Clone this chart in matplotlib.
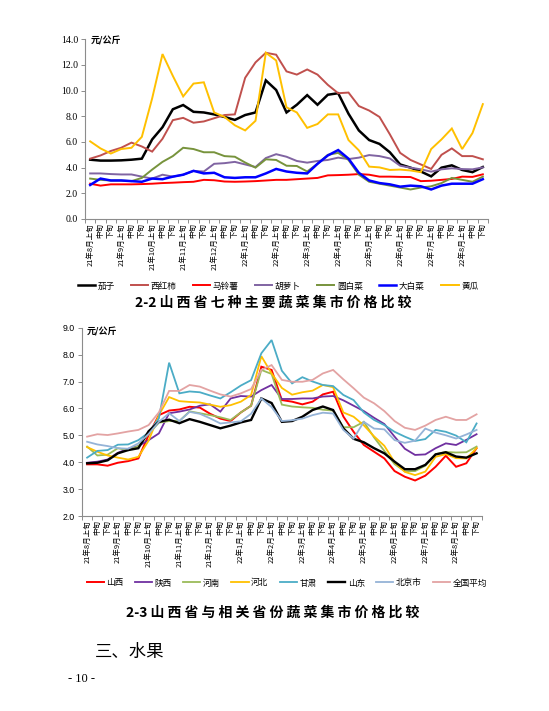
import matplotlib
matplotlib.use('Agg')
import matplotlib.pyplot as plt
from matplotlib.ticker import FixedLocator, NullFormatter, FormatStrFormatter

plt.rcParams['font.family'] = ['Noto Sans CJK SC', 'DejaVu Sans']

# ---------------- data ----------------
months = ['21年8月', '21年9月', '21年10月', '21年11月', '21年12月',
          '22年1月', '22年2月', '22年3月', '22年4月', '22年5月',
          '22年6月', '22年7月', '22年8月']
periods = ['上旬', '中旬', '下旬']

veg_names = ['茄子', '西红柿', '马铃薯', '胡萝卜', '圆白菜', '大白菜', '黄瓜']
eggplant = [4.62, 4.55, 4.55, 4.57, 4.62, 4.7, 6.2, 7.15, 8.55, 8.88, 8.35, 8.3, 8.15,
            7.95, 7.72, 8.1, 8.3, 10.8, 10.05, 8.3, 8.9, 9.65, 8.9, 9.68, 9.8, 8.2,
            6.9, 6.15, 5.85, 5.2, 4.25, 4.0, 3.7, 3.32, 4.0, 4.18, 3.82, 3.65, 4.05]
tomato = [4.7, 4.95, 5.3, 5.55, 5.95, 5.65, 5.25, 6.25, 7.7, 7.88, 7.5, 7.6, 7.85,
          8.1, 8.15, 11.0, 12.2, 12.95, 12.8, 11.5, 11.25, 11.65, 11.25, 10.45, 9.8, 9.85,
          8.8, 8.45, 7.95, 6.6, 5.15, 4.6, 4.25, 3.9, 5.0, 5.5, 4.9, 4.9, 4.65]
potato = [2.75, 2.6, 2.7, 2.7, 2.7, 2.72, 2.75, 2.8, 2.83, 2.87, 2.9, 3.05, 3.02,
          2.92, 2.9, 2.92, 2.95, 3.0, 3.05, 3.05, 3.1, 3.15, 3.2, 3.4, 3.42, 3.45,
          3.5, 3.45, 3.3, 3.3, 3.28, 3.27, 2.95, 2.98, 3.05, 3.12, 3.3, 3.28, 3.48]
carrot = [3.55, 3.55, 3.5, 3.47, 3.47, 3.3, 3.15, 3.45, 3.3, 3.45, 3.75, 3.7, 4.3,
          4.35, 4.45, 4.25, 4.05, 4.75, 5.05, 4.85, 4.52, 4.39, 4.52, 4.6, 4.78, 4.67,
          4.78, 4.98, 4.9, 4.72, 4.15, 4.0, 3.87, 3.69, 3.87, 3.95, 3.89, 3.87, 4.02]
cabbage = [3.15, 3.05, 3.0, 3.0, 2.95, 3.2, 3.85, 4.45, 4.9, 5.55, 5.45, 5.2, 5.2,
           4.9, 4.85, 4.4, 4.0, 4.65, 4.6, 4.15, 4.13, 3.7, 4.3, 5.0, 5.15, 4.6,
           3.45, 2.9, 2.75, 2.6, 2.45, 2.3, 2.45, 2.55, 2.8, 3.2, 3.05, 2.9, 3.3]
chinese_cabbage = [2.65, 3.15, 3.0, 3.0, 2.95, 2.9, 3.15, 3.1, 3.3, 3.45, 3.75, 3.55, 3.6,
                   3.25, 3.2, 3.25, 3.25, 3.55, 3.9, 3.7, 3.6, 3.55, 4.3, 4.95, 5.37, 4.7,
                   3.6, 3.0, 2.8, 2.7, 2.52, 2.6, 2.55, 2.3, 2.6, 2.75, 2.75, 2.75, 3.1]
cucumber = [6.05, 5.5, 5.1, 5.45, 5.55, 6.4, 9.4, 12.85, 11.15, 9.55, 10.55, 10.65, 8.3,
            7.95, 7.3, 6.9, 7.65, 12.95, 12.35, 8.7, 8.3, 7.1, 7.4, 8.15, 8.15, 6.15,
            5.35, 4.08, 4.02, 3.82, 3.85, 3.78, 3.65, 5.45, 6.2, 7.05, 5.45, 6.7, 8.95]

prov_names = ['山西', '陕西', '河南', '河北', '甘肃', '山东', '北京市', '全国平均']
shanxi = [3.92, 3.92, 3.87, 3.98, 4.04, 4.14, 5.01, 5.75, 5.92, 5.96, 6.06, 6.03, 5.8,
          5.62, 5.53, 5.85, 6.1, 7.55, 7.43, 6.31, 6.25, 6.15, 6.25, 6.52, 6.62, 5.7,
          5.13, 4.64, 4.39, 4.14, 3.67, 3.46, 3.32, 3.5, 3.83, 4.24, 3.83, 3.96, 4.52]
shaanxi = [3.98, 4.02, 4.1, 4.35, 4.5, 4.6, 4.82, 5.07, 5.82, 5.88, 5.96, 6.1, 6.15,
           5.88, 6.37, 6.46, 6.44, 6.68, 6.87, 6.35, 6.35, 6.37, 6.37, 6.44, 6.46, 6.3,
           6.1, 5.9, 5.65, 5.42, 4.95, 4.5, 4.27, 4.29, 4.52, 4.7, 4.64, 4.83, 5.04]
henan = [4.58, 4.25, 4.28, 4.52, 4.44, 4.6, 5.05, 5.47, 5.53, 5.53, 5.89, 5.82, 5.75,
         5.67, 5.57, 5.85, 6.1, 7.43, 7.28, 6.14, 6.07, 6.04, 6.02, 5.95, 5.92, 5.3,
         5.3, 5.5, 4.92, 4.42, 3.93, 3.66, 3.67, 3.87, 4.3, 4.38, 4.36, 4.37, 4.58]
hebei = [4.56, 4.39, 4.25, 4.17, 4.1, 4.2, 4.8, 5.75, 6.42, 6.27, 6.24, 6.22, 6.14,
         6.06, 6.12, 6.25, 6.5, 7.94, 7.3, 6.76, 6.51, 6.6, 6.66, 6.87, 6.79, 5.85,
         5.69, 5.37, 4.96, 4.61, 4.0, 3.64, 3.52, 3.65, 4.2, 4.3, 4.15, 4.14, 4.52]
gansu = [4.17, 4.42, 4.45, 4.65, 4.66, 4.82, 5.1, 5.63, 7.7, 6.56, 6.63, 6.6, 6.48,
         6.37, 6.6, 6.85, 7.05, 8.05, 8.54, 7.4, 6.93, 7.16, 7.0, 6.87, 6.83, 6.5,
         6.31, 5.85, 5.57, 5.38, 5.13, 4.95, 4.79, 4.86, 5.2, 5.13, 4.99, 4.74, 5.44]
shandong = [3.96, 3.98, 4.07, 4.33, 4.45, 4.52, 5.15, 5.5, 5.58, 5.45, 5.6, 5.5, 5.38,
            5.26, 5.36, 5.48, 5.57, 6.37, 6.2, 5.5, 5.53, 5.69, 5.94, 6.07, 5.94, 5.26,
            4.87, 4.74, 4.52, 4.33, 4.02, 3.74, 3.74, 3.9, 4.29, 4.37, 4.21, 4.17, 4.33]
beijing = [4.76, 4.66, 4.6, 4.52, 4.5, 4.7, 5.05, 5.5, 5.82, 5.53, 5.87, 5.8, 5.63,
           5.44, 5.48, 5.52, 5.8, 6.37, 6.05, 5.53, 5.56, 5.62, 5.75, 5.84, 5.81, 5.2,
           4.88, 5.5, 5.25, 5.22, 4.82, 4.72, 4.8, 5.25, 5.1, 5.0, 4.88, 5.03, 5.2]
national = [4.95, 5.04, 5.01, 5.07, 5.14, 5.2, 5.38, 5.85, 6.65, 6.65, 6.87, 6.81, 6.66,
            6.52, 6.44, 6.56, 6.72, 7.43, 7.61, 7.06, 6.99, 6.99, 7.06, 7.3, 7.43, 7.08,
            6.75, 6.4, 6.19, 5.9, 5.53, 5.28, 5.2, 5.36, 5.57, 5.69, 5.57, 5.57, 5.78]

unit = '元/公斤'
title1 = '2-2 山西省七种主要蔬菜集市价格比较'
title2 = '2-3 山西省与相关省份蔬菜集市价格比较'
section = '三、水果'
page_no = '- 10 -'

# ---------------- styling ----------------
veg_series = [eggplant, tomato, potato, carrot, cabbage, chinese_cabbage, cucumber]
veg_colors = ['#000000', '#C0504D', '#FF0000', '#8064A2', '#77933C', '#0000FF', '#FFC000']
veg_lw = [1.8, 1.4, 1.4, 1.4, 1.4, 1.8, 1.4]

prov_series = [shanxi, shaanxi, henan, hebei, gansu, shandong, beijing, national]
prov_colors = ['#FF0000', '#7030A0', '#9BBB59', '#FFC000', '#4BACC6', '#000000', '#95B3D7', '#E3A3A3']
prov_lw = [1.4, 1.3, 1.3, 1.3, 1.3, 1.7, 1.3, 1.3]

labels = [m + p if p == '上旬' else p for m in months for p in periods]
x = list(range(len(labels)))

W, H = 549, 711
fig = plt.figure(figsize=(W / 100, H / 100), dpi=100)
fig.patch.set_facecolor('white')

spine_c = '#8C8C8C'
cjk = ['Noto Sans CJK SC', 'DejaVu Sans']


def spaced(title):
    head, body = title.split(' ', 1)
    return head + ' ' + ' '.join(body)


def style_axis(ax, ymin, ymax, step, yfont, yfs):
    for s in ['top', 'right']:
        ax.spines[s].set_visible(False)
    for s in ['left', 'bottom']:
        ax.spines[s].set_color(spine_c)
        ax.spines[s].set_linewidth(0.8)
    ax.set_xlim(-0.5, len(labels) - 0.5)
    ax.set_ylim(ymin, ymax)
    yt = [ymin + step * k for k in range(int(round((ymax - ymin) / step)) + 1)]
    ax.set_yticks(yt)
    ax.yaxis.set_major_formatter(FormatStrFormatter('%.1f'))
    ax.tick_params(axis='y', length=3, width=0.7, color=spine_c, pad=2, labelsize=yfs)
    for t in ax.get_yticklabels():
        t.set_family(yfont)
    ax.set_xticks(x)
    ax.set_xticklabels(labels, rotation=90, fontsize=5.4, family=cjk)
    ax.tick_params(axis='x', which='major', length=0, pad=3)
    ax.xaxis.set_minor_locator(FixedLocator([i - 0.5 for i in range(len(labels) + 1)]))
    ax.xaxis.set_minor_formatter(NullFormatter())
    ax.tick_params(axis='x', which='minor', length=3, width=0.7, color=spine_c)


# ---------- chart 1 ----------
ax1 = fig.add_axes([85 / W, 1 - 219 / H, (488 - 85) / W, (219 - 39.3) / H])
for ser, name, c, lw in zip(veg_series, veg_names, veg_colors, veg_lw):
    ax1.plot(x, ser, color=c, lw=lw, label=name, solid_joinstyle='miter')
style_axis(ax1, 0, 14, 2, ['Liberation Serif'], 7)
fig.text(91 / W, 1 - 41 / H, unit, fontsize=6.5, fontweight='bold', family=cjk, va='center', ha='left')
ax1.legend(loc='center', bbox_to_anchor=(278 / W, 1 - 286 / H), bbox_transform=fig.transFigure,
           ncol=7, frameon=False, prop={'family': cjk, 'size': 6.2},
           handlelength=2.0, handletextpad=0.3, columnspacing=1.9)
fig.text(273 / W, 1 - 303 / H, spaced(title1),
         fontsize=10, fontweight='bold', family=cjk, ha='center', va='center')

# ---------- chart 2 ----------
ax2 = fig.add_axes([82 / W, 1 - 516 / H, (481.7 - 82) / W, (516 - 327.7) / H])
for ser, name, c, lw in zip(prov_series, prov_names, prov_colors, prov_lw):
    ax2.plot(x, ser, color=c, lw=lw, label=name, solid_joinstyle='miter')
style_axis(ax2, 2, 9, 1, ['Liberation Sans'], 6.3)
fig.text(87 / W, 1 - 332 / H, unit, fontsize=6.5, fontweight='bold', family=cjk, va='center', ha='left')
ax2.legend(loc='center', bbox_to_anchor=(287 / W, 1 - 583 / H), bbox_transform=fig.transFigure,
           ncol=8, frameon=False, prop={'family': cjk, 'size': 6.2},
           handlelength=2.0, handletextpad=0.3, columnspacing=1.3)
fig.text(273 / W, 1 - 613 / H, spaced(title2),
         fontsize=10, fontweight='bold', family=cjk, ha='center', va='center')

# ---------- page text ----------
fig.text(95 / W, 1 - 652 / H, section, fontsize=12.5, family=cjk, ha='left', va='center')
fig.text(68 / W, 1 - 679 / H, page_no, fontsize=9, family=['Liberation Serif'], ha='left', va='center')

fig.savefig('out.png', dpi=100, facecolor='white')
